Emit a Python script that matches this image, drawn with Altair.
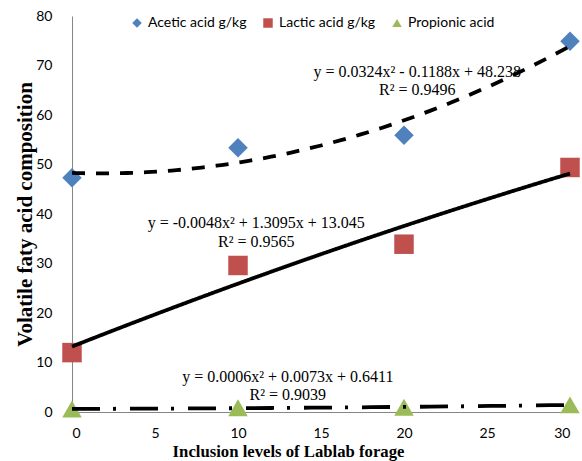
import altair as alt
import pandas as pd

levels = [0, 10, 20, 30]
series_names = ["Acetic acid g/kg", "Lactic acid g/kg", "Propionic acid"]
acetic = [47.3, 53.4, 55.9, 74.9]
lactic = [12.0, 29.6, 33.9, 49.4]
propionic = [0.6, 0.85, 0.95, 1.45]
colors = ["#4F81BD", "#C0504D", "#9BBB59"]
shapes = ["diamond", "square", "triangle-up"]
dashes = [[13, 11], [1, 0], [28, 13, 3, 14]]

eq_text = [
    "y = 0.0324x\u00b2  - 0.1188x  + 48.238", "R\u00b2 = 0.9496",
    "y = -0.0048x\u00b2 + 1.3095x + 13.045", "R\u00b2 = 0.9565",
    "y = 0.0006x\u00b2 + 0.0073x + 0.6411", "R\u00b2 = 0.9039",
]
eq_x = [20.8, 20.8, 11.1, 11.1, 13.0, 13.0]
eq_y = [68.7, 65.0, 38.2, 34.3, 7.1, 3.4]

rows = []
for name, vals in zip(series_names, [acetic, lactic, propionic]):
    for x, v in zip(levels, vals):
        rows.append({"level": x, "value": v, "series": name})
df = pd.DataFrame(rows)
ann = pd.DataFrame({"x": eq_x, "y": eq_y, "t": eq_text})

xscale = alt.Scale(domain=[0, 30], nice=False)
yscale = alt.Scale(domain=[0, 80], nice=False)

xaxis = alt.Axis(values=[0, 5, 10, 15, 20, 25, 30], grid=False, ticks=False,
                 domainColor="#868686", labelFont="Lato", labelFontSize=14,
                 labelColor="#000000", labelPadding=14,
                 title="Inclusion levels of Lablab forage", titleFont="Liberation Serif",
                 titleFontSize=16.7, titleFontWeight="bold", titleColor="#000000",
                 titleX=216, titleY=44, titleBaseline="alphabetic", titleAlign="center")
yaxis = alt.Axis(values=list(range(0, 81, 10)), grid=False, ticks=False,
                 domainColor="#868686", labelFont="Lato", labelFontSize=14,
                 labelColor="#000000", labelPadding=20,
                 title="Volatile faty acid composition", titleFont="Liberation Serif",
                 titleFontSize=21, titleFontWeight="bold", titleColor="#000000",
                 titleX=-41, titleY=198, titleBaseline="alphabetic", titleAngle=-90,
                 titleAlign="center")

base = alt.Chart(df)

lines = []
for name, d in zip(series_names, dashes):
    lines.append(
        base.transform_filter(alt.datum.series == name)
        .transform_regression("level", "value", method="poly", order=2, extent=[0, 30])
        .mark_line(color="black", strokeWidth=3.8, strokeDash=d)
        .encode(x=alt.X("level:Q", scale=xscale, axis=xaxis),
                y=alt.Y("value:Q", scale=yscale, axis=yaxis))
    )

legend = alt.Legend(title=None, orient="none", legendX=58, legendY=0,
                    direction="horizontal", labelFont="Lato", labelFontSize=14,
                    labelColor="#000000", symbolSize=90, labelOffset=4,
                    columnPadding=14, symbolStrokeWidth=0)

points = base.mark_point(filled=True, size=380, opacity=1).encode(
    x=alt.X("level:Q", scale=xscale, axis=xaxis),
    y=alt.Y("value:Q", scale=yscale, axis=yaxis),
    color=alt.Color("series:N", scale=alt.Scale(domain=series_names, range=colors), legend=legend),
    shape=alt.Shape("series:N", scale=alt.Scale(domain=series_names, range=shapes), legend=legend),
)

text = alt.Chart(ann).mark_text(font="Liberation Serif", fontSize=16, color="#000000").encode(
    x=alt.X("x:Q", scale=xscale), y=alt.Y("y:Q", scale=yscale), text="t:N")

chart = alt.layer(points, *lines, text).properties(
    width=498, height=396,
    autosize=alt.AutoSizeParams(type="none"),
    padding={"left": 72, "top": 16, "right": 12, "bottom": 49},
).configure_view(stroke=None)

chart.save("out.html", embed_options={"renderer": "svg", "actions": False})
